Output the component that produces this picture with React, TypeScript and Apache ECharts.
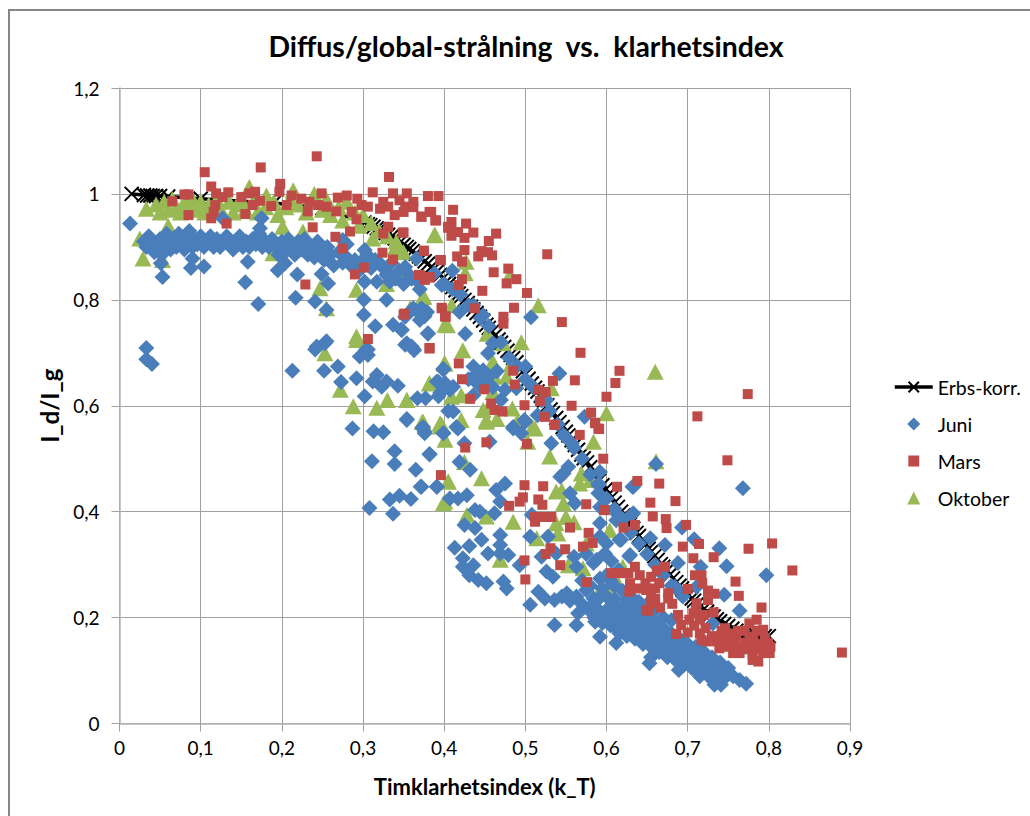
import React, { useEffect, useRef } from "react";
import * as echarts from "echarts";

const titleText = "Diffus/global-strålning  vs.  klarhetsindex";
const xAxisTitle = "Timklarhetsindex (k_T)";
const yAxisTitle = "I_d/I_g";
const legendOrder = ["Erbs-korr.", "Juni", "Mars", "Oktober"];
const xTickLabels = ["0", "0,1", "0,2", "0,3", "0,4", "0,5", "0,6", "0,7", "0,8", "0,9"];
const yTickLabels = ["0", "0,2", "0,4", "0,6", "0,8", "1", "1,2"];

const erbs = [[.015,1],[.03,.998],[.034,.997],[.038,.997],[.041,.996],[.045,.996],[.05,.996],[.06,.995],[.1,.991],[.19,.983],[.25,.973],
[.302,.946],[.306,.943],[.309,.941],[.313,.938],[.317,.935],[.32,.933],[.324,.929],[.328,.926],[.331,.923],[.335,.919],[.339,.916],[.342,.913],[.346,.909],[.35,.904],[.354,.9],[.357,.896],[.361,.892],[.365,.887],[.369,.882],[.372,.878],[.376,.873],[.38,.868],[.384,.862],[.387,.858],[.391,.853],[.395,.847],[.399,.841],[.403,.835],[.406,.83],[.41,.824],[.414,.818],[.418,.812],[.421,.807],[.425,.8],[.429,.794],[.433,.787],[.436,.782],[.44,.775],[.444,.768],[.448,.761],[.452,.753],[.455,.747],[.459,.74],[.463,.733],[.467,.725],[.47,.719],[.474,.711],[.478,.704],[.482,.696],[.485,.69],[.489,.682],[.493,.673],[.497,.665],[.5,.659],[.504,.651],[.508,.642],[.512,.634],[.515,.627],[.519,.619],[.523,.61],[.527,.601],[.531,.593],[.534,.586],[.538,.577],[.542,.569],[.546,.56],[.55,.551],[.553,.544],[.557,.535],[.561,.526],[.565,.517],[.569,.508],[.572,.501],[.576,.493],[.58,.484],[.584,.475],[.587,.468],[.591,.459],[.595,.45],[.599,.442],[.603,.433],[.606,.426],[.61,.417],[.614,.409],[.618,.4],[.621,.393],[.625,.385],[.629,.376],[.633,.368],[.637,.36],[.64,.354],[.644,.346],[.648,.338],[.652,.33],[.655,.324],[.659,.316],[.663,.309],[.667,.301],[.67,.296],[.674,.288],[.678,.281],[.682,.274],[.686,.267],[.69,.26],[.693,.255],[.697,.249],[.701,.242],[.705,.236],[.708,.232],[.712,.226],[.716,.221],[.72,.216],[.724,.211],[.728,.206],[.732,.202],[.736,.197],[.74,.193],[.745,.188],[.75,.184],[.755,.179],[.76,.175],[.765,.172],[.77,.17],[.775,.168],[.78,.167],[.785,.166],[.79,.165],[.795,.165],[.8,.165]];

const juniBand = [[.013,.944],[.03,.91],[.033,.9],[.036,.92],[.04,.905],[.043,.89],[.046,.9],[.05,.915],[.052,.885],[.055,.895],[.058,.925],[.06,.905],[.063,.895],[.066,.915],[.07,.9],[.073,.925],[.076,.905],[.08,.895],[.083,.915],[.086,.93],[.09,.9],[.093,.915],[.096,.905],[.1,.92],[.104,.9],[.108,.91],[.112,.92],[.116,.9],[.12,.915],[.124,.9],[.128,.91],[.132,.92],[.136,.905],[.14,.895],[.144,.91],[.148,.92],[.152,.9],[.156,.91],[.16,.9],[.164,.915],[.168,.905],[.172,.925],[.176,.9],[.18,.91],[.184,.9],[.188,.915],[.192,.9],[.196,.885],[.2,.91],[.204,.89],[.208,.915],[.212,.9],[.216,.885],[.22,.91],[.224,.895],[.228,.915],[.232,.885],[.236,.9],[.24,.88],[.244,.91],[.248,.89],[.252,.875],[.256,.9],[.26,.885],[.264,.865],[.27,.89],[.275,.87],[.28,.905],[.285,.865],[.29,.875],[.295,.855],[.28,.88],[.3,.875],[.31,.86],[.32,.87],[.33,.85],[.345,.855],[.36,.84],[.37,.82],[.305,.885],[.315,.875],[.325,.86],[.335,.87],[.34,.84],[.35,.83],[.355,.85]];
const juniScatterHigh = [[.053,.843],[.088,.86],[.104,.863],[.09,.878],[.051,.869],[.127,.954],[.175,.954],[.173,.935],[.155,.833],[.171,.792],[.158,.872],[.195,.856],[.219,.848],[.204,.869],[.217,.804],[.241,.797],[.255,.781],[.249,.849],[.257,.831],[.302,.894],[.275,.913],[.302,.834],[.317,.834],[.329,.847],[.333,.834],[.301,.8],[.329,.8],[.301,.772],[.315,.75],[.337,.753],[.347,.744],[.36,.781],[.372,.784],[.376,.769],[.37,.762],[.38,.737],[.352,.715],[.36,.712],[.306,.706],[.255,.722],[.243,.712],[.033,.709],[.033,.688],[.04,.679],[.241,.706],[.253,.718],[.304,.706],[.296,.693],[.306,.696],[.362,.707]];
const juniScatterMid = [[.213,.666],[.252,.666],[.269,.674],[.273,.645],[.292,.652],[.317,.658],[.312,.646],[.323,.636],[.329,.646],[.343,.638],[.302,.618],[.367,.614],[.399,.668],[.391,.646],[.395,.624],[.401,.643],[.407,.63],[.354,.575],[.287,.557],[.313,.552],[.325,.55],[.373,.558],[.376,.548],[.399,.548],[.311,.495],[.339,.514],[.339,.49],[.382,.509],[.365,.479],[.371,.447],[.391,.447],[.359,.424],[.345,.43],[.333,.423],[.308,.407],[.337,.396],[.405,.59],[.366,.878],[.352,.862],[.366,.837],[.397,.828],[.41,.855],[.388,.85],[.419,.777],[.436,.79],[.448,.771],[.507,.767],[.372,.771],[.362,.784],[.352,.768],[.379,.777],[.348,.743],[.38,.736],[.426,.736],[.354,.718],[.363,.705],[.454,.699],[.5,.674],[.542,.661],[.399,.67],[.436,.674],[.448,.667],[.45,.648],[.393,.645],[.401,.636],[.411,.636],[.393,.618],[.436,.62],[.489,.633],[.47,.611],[.377,.614],[.509,.636],[.526,.611],[.411,.589],[.499,.573],[.354,.573],[.374,.56],[.573,.579],[.485,.56],[.415,.56],[.515,.582],[.46,.718],[.44,.66],[.455,.655],[.46,.635],[.442,.64],[.43,.65],[.475,.63],[.465,.665]];
const juniScatterLow = [[.376,.551],[.399,.548],[.417,.557],[.425,.529],[.382,.508],[.419,.494],[.432,.479],[.372,.447],[.391,.447],[.407,.425],[.417,.425],[.428,.431],[.438,.403],[.444,.4],[.475,.453],[.464,.441],[.469,.419],[.462,.397],[.425,.375],[.438,.369],[.469,.356],[.446,.347],[.413,.332],[.431,.335],[.469,.337],[.423,.312],[.436,.299],[.454,.321],[.469,.321],[.479,.318],[.423,.296],[.431,.28],[.442,.271],[.452,.265],[.473,.268],[.477,.255],[.493,.299],[.506,.353],[.528,.353],[.52,.315],[.538,.321],[.526,.287],[.534,.277],[.516,.249],[.524,.236],[.506,.224],[.536,.233],[.551,.246],[.563,.24],[.584,.236],[.575,.252],[.536,.186],[.563,.186],[.565,.208],[.586,.192],[.592,.164],[.6,.214],[.608,.227],[.62,.196],[.637,.22],[.616,.17],[.645,.189],[.633,.17],[.645,.152],[.612,.152],[.592,.274],[.584,.303],[.598,.321],[.563,.296],[.588,.309],[.555,.435],[.561,.416],[.592,.378],[.592,.353],[.616,.347],[.629,.318],[.633,.447],[.59,.453],[.592,.475],[.59,.435],[.614,.394],[.633,.397],[.547,.472],[.543,.466],[.553,.485],[.532,.529],[.547,.545],[.557,.529],[.485,.557],[.495,.548],[.5,.57],[.456,.532],[.592,.409],[.508,.394],[.545,.24],[.555,.232],[.57,.225],[.578,.215],[.59,.235],[.595,.255],[.605,.27],[.57,.27],[.58,.26],[.6,.28],[.61,.26],[.615,.29],[.56,.315],[.575,.32],[.6,.34]];
const juniRight = [[.661,.49],[.768,.444],[.632,.447],[.693,.37],[.708,.348],[.739,.331],[.748,.297],[.797,.28],[.716,.296],[.688,.303],[.672,.337],[.654,.35],[.618,.347],[.628,.316],[.631,.394],[.612,.384],[.606,.307],[.745,.243],[.764,.213],[.684,.258],[.711,.258],[.694,.24],[.731,.189],[.653,.114],[.689,.101],[.715,.089],[.733,.073],[.741,.073],[.756,.089],[.772,.075],[.764,.082]];
const juniCurve = [[.4,.83],[.41,.82],[.42,.81],[.43,.79],[.445,.765],[.455,.75],[.47,.72],[.48,.69],[.49,.675],[.5,.65],[.51,.635],[.52,.61],[.53,.59],[.54,.565],[.55,.54],[.56,.52],[.57,.5],[.58,.47],[.59,.45],[.6,.425],[.61,.405],[.62,.385],[.63,.36],[.64,.34],[.65,.32],[.66,.3],[.67,.28],[.68,.26],[.69,.25]];
const juniLowBand = [[.58,.22],[.585,.2],[.59,.215],[.595,.19],[.6,.205],[.605,.185],[.61,.2],[.615,.175],[.62,.19],[.625,.165],[.63,.185],[.635,.16],[.64,.175],[.645,.15],[.65,.17],[.655,.145],[.655,.125],[.66,.16],[.665,.135],[.67,.15],[.675,.125],[.68,.145],[.685,.12],[.69,.135],[.695,.11],[.7,.13],[.705,.105],[.71,.125],[.715,.095],[.72,.115],[.725,.09],[.73,.105],[.735,.08],[.74,.1],[.745,.085],[.75,.095],[.62,.22],[.63,.215],[.64,.205],[.65,.2],[.66,.19],[.67,.18],[.68,.17],[.69,.16],[.7,.15],[.71,.145],[.72,.135],[.73,.125],[.74,.115],[.75,.105],[.6,.24],[.61,.235],[.62,.25],[.63,.24],[.64,.23],[.65,.225],[.66,.215],[.67,.2],[.68,.195],
[.612,.215],[.618,.205],[.622,.175],[.628,.2],[.632,.195],[.638,.19],[.642,.16],[.648,.18],[.652,.155],[.658,.175],[.662,.14],[.668,.165],[.672,.135],[.678,.155],[.682,.13],[.688,.15],[.692,.12],[.698,.14],[.702,.115],[.708,.135],[.712,.11],[.718,.125],[.722,.1],[.728,.115],[.732,.09],[.738,.105],[.742,.09],[.748,.1],[.655,.19],[.665,.175],[.675,.165],[.685,.155],[.695,.145],[.705,.135],[.715,.13],[.725,.12],[.735,.11],[.645,.215],[.635,.225],[.625,.235]];

const marsTop = [[.243,1.071],[.105,1.041],[.174,1.05],[.332,1.032],[.113,1.014],[.198,1.019],[.197,1.004],[.312,1.003],[.337,1.001],[.354,1.001],[.38,.996],[.393,.996],[.085,.999],[.08,.999],[.065,.986],[.085,.96],[.119,1.001],[.134,1.003],[.127,.994],[.118,.979],[.113,.954],[.116,.966],[.155,.962],[.132,.944],[.15,.994],[.16,1.001],[.167,1.004],[.164,.979],[.173,.987],[.187,.977],[.206,.979],[.212,.997],[.224,.991],[.234,.985],[.232,.967],[.245,.979],[.249,1.001],[.255,.976],[.267,.967],[.269,.993],[.28,.997],[.293,.991],[.286,.966],[.292,.952],[.298,.979],[.306,.976],[.325,.985],[.321,.972],[.331,.976],[.339,.96],[.345,.988],[.352,.976],[.362,.985],[.372,.957],[.384,.966],[.39,.95],[.405,.938],[.238,.937],[.284,.929],[.266,.919],[.275,.897],[.331,.938],[.325,.925],[.349,.927],[.375,.893],[.396,.875],[.324,.889],[.337,.876],[.301,.861],[.29,.848],[.369,.847],[.382,.843],[.376,.838],[.229,.829],[.351,.774],[.397,.784],[.401,.769],[.306,.726],[.382,.709]];
const marsMid = [[.411,.97],[.362,.975],[.35,.966],[.372,.957],[.382,.966],[.389,.95],[.409,.947],[.427,.944],[.405,.936],[.417,.928],[.409,.921],[.436,.927],[.425,.917],[.464,.925],[.455,.911],[.35,.927],[.375,.892],[.395,.875],[.425,.894],[.416,.882],[.422,.872],[.442,.882],[.446,.892],[.454,.89],[.459,.884],[.527,.886],[.461,.852],[.479,.859],[.37,.847],[.376,.838],[.382,.842],[.422,.839],[.418,.828],[.489,.839],[.477,.831],[.447,.817],[.502,.813],[.397,.785],[.402,.768],[.35,.772],[.438,.784],[.486,.785],[.473,.768],[.473,.755],[.545,.758],[.382,.708],[.568,.7],[.418,.68],[.422,.65],[.485,.666],[.487,.64],[.616,.666],[.611,.643],[.561,.648],[.534,.647],[.449,.631],[.432,.613],[.516,.63],[.525,.626],[.518,.609],[.6,.617],[.458,.604],[.462,.592],[.472,.589],[.499,.601],[.557,.6],[.581,.587],[.586,.568],[.59,.557],[.524,.579],[.536,.564],[.712,.58],[.774,.622]];
const marsLow = [[.536,.564],[.567,.545],[.586,.567],[.591,.556],[.596,.5],[.452,.531],[.426,.521],[.502,.528],[.396,.469],[.499,.45],[.522,.448],[.613,.447],[.638,.458],[.497,.427],[.493,.419],[.516,.423],[.521,.413],[.48,.411],[.575,.414],[.597,.403],[.512,.39],[.512,.381],[.524,.39],[.532,.39],[.555,.37],[.621,.37],[.635,.375],[.578,.36],[.583,.341],[.571,.334],[.531,.331],[.525,.32],[.549,.329],[.543,.299],[.499,.308],[.5,.272],[.576,.267],[.606,.284],[.611,.284],[.616,.284],[.622,.284],[.627,.284],[.635,.296],[.641,.28],[.629,.265],[.628,.249],[.649,.214],[.649,.252]];
const marsRight = [[.749,.497],[.665,.453],[.654,.417],[.685,.42],[.598,.403],[.657,.391],[.673,.386],[.674,.369],[.698,.375],[.714,.339],[.694,.334],[.804,.34],[.775,.33],[.829,.289],[.732,.314],[.707,.312],[.672,.296],[.662,.289],[.655,.277],[.66,.255],[.676,.246],[.676,.236],[.655,.227],[.681,.226],[.666,.219],[.652,.213],[.709,.28],[.717,.28],[.718,.265],[.7,.254],[.725,.251],[.733,.245],[.759,.268],[.763,.241],[.791,.219],[.711,.227],[.725,.233],[.732,.21],[.688,.205],[.707,.208],[.715,.196],[.702,.196],[.692,.186],[.686,.169],[.7,.172],[.715,.17],[.723,.155],[.717,.158],[.746,.18],[.739,.164],[.75,.17],[.739,.142],[.76,.164],[.756,.133],[.764,.133],[.776,.164],[.785,.196],[.776,.189],[.793,.177],[.781,.158],[.799,.152],[.801,.133],[.787,.117],[.78,.12],[.793,.133],[.772,.152],[.748,.145],[.89,.134],[.797,.142],
[.71,.215],[.72,.205],[.708,.185],[.722,.18],[.73,.165],[.742,.175],[.752,.155],[.758,.148],[.768,.145],[.775,.14],[.783,.14],[.79,.15],[.795,.16],[.785,.175],[.77,.175],[.78,.13],[.802,.145],[.745,.16],[.735,.155],[.762,.175],[.655,.245],[.66,.235],[.665,.265],[.648,.265],[.64,.255]];

const oktoberBand = [[.033,.972],[.045,.98],[.05,.965],[.055,.985],[.06,.97],[.065,.99],[.07,.975],[.075,.965],[.08,.985],[.085,.975],[.09,.99],[.095,.97],[.1,.985],[.105,.965],[.11,.98],[.12,.99],[.125,.97],[.135,.985],[.14,.965],[.145,.98],[.15,.99],[.155,.97],[.165,.985],[.17,.965],[.18,.975],[.19,.985],[.195,.96],[.205,.975],[.21,.99],[.22,.98],[.23,.965],[.235,.985],[.25,.97],[.255,.99],[.26,.96],[.27,.975],[.275,.95],[.28,.985],[.29,.965],[.295,.94],[.3,.96],[.31,.945],[.32,.93],[.33,.92],[.34,.9],[.35,.89]];
const oktoberHigh = [[.16,1.013],[.214,1.007],[.181,.997],[.24,1],[.201,.938],[.226,.929],[.025,.916],[.029,.878],[.053,.875],[.06,.94],[.247,.822],[.292,.819],[.35,.847],[.329,.83],[.255,.784],[.292,.731],[.312,.916],[.341,.91],[.389,.922],[.375,.806],[.358,.784],[.401,.753],[.189,.888],[.253,.699],[.292,.724],[.272,.63],[.288,.599],[.317,.596],[.33,.611],[.354,.611],[.382,.643],[.401,.68],[.373,.57],[.395,.561],[.401,.536],[.405,.457],[.399,.416]];
const oktoberMid = [[.388,.923],[.427,.872],[.426,.85],[.374,.806],[.481,.847],[.516,.79],[.409,.79],[.404,.752],[.453,.736],[.473,.718],[.495,.72],[.423,.705],[.4,.68],[.46,.683],[.483,.68],[.66,.664],[.462,.655],[.477,.655],[.382,.642],[.532,.633],[.46,.626],[.421,.62],[.409,.617],[.354,.611],[.448,.592],[.484,.595],[.6,.586],[.452,.573],[.421,.573],[.395,.567],[.374,.57],[.509,.56],[.455,.6],[.465,.575],[.49,.57]];
const oktoberLow = [[.405,.457],[.401,.419],[.452,.391],[.485,.381],[.446,.463],[.53,.504],[.538,.438],[.547,.416],[.538,.378],[.54,.359],[.514,.35],[.553,.299],[.571,.293],[.592,.252],[.606,.246],[.569,.472],[.567,.453],[.584,.532],[.512,.557],[.503,.532],[.397,.564],[.452,.57],[.425,.494],[.62,.296],[.612,.271],[.604,.365],[.575,.34],[.627,.208],[.469,.309],[.428,.394],[.661,.495],[.58,.46],[.545,.44],[.56,.38],[.55,.39]];

const juni = [...juniBand, ...juniScatterHigh, ...juniScatterMid, ...juniScatterLow, ...juniRight, ...juniCurve, ...juniLowBand];
const mars = [...marsTop, ...marsMid, ...marsLow, ...marsRight];
const oktober = [...oktoberBand, ...oktoberHigh, ...oktoberMid, ...oktoberLow];

const FONT = "Lato";
const X_PATH = "path://M0,0L10,10M10,0L0,10";
const DIAMOND_ICON = "path://M6,0L12,6L6,12L0,6Z";
const SQUARE_ICON = "path://M0,0L0,0ZM12,12L12,12ZM1,1L11,1L11,11L1,11Z";
const TRIANGLE_ICON = "path://M6,0L12,12L0,12Z";

export default function App() {
  const ref = useRef<HTMLDivElement>(null);
  useEffect(() => {
    const chart = echarts.init(ref.current!, null, { renderer: "svg" });
    const axisCommon = {
      axisLine: { onZero: false, lineStyle: { color: "#b4b4b4", width: 1.5 } },
      axisTick: { show: true, length: 8, lineStyle: { color: "#a0a0a0", width: 1 } },
      splitLine: { show: true, lineStyle: { color: "#a0a0a0", width: 1 } },
      nameLocation: "middle" as const,
    };
    chart.setOption({
      animation: false,
      backgroundColor: "#fff",
      title: {
        text: titleText,
        left: 521,
        top: 27,
        textAlign: "center",
        textStyle: { fontFamily: FONT, fontWeight: "bold", fontSize: 28.4, color: "#000" },
      },
      grid: { left: 119.5, top: 88, width: 730.5, height: 635.5 },
      xAxis: {
        ...axisCommon,
        type: "value",
        min: 0,
        max: 0.9,
        interval: 0.1,
        name: xAxisTitle,
        nameGap: 52,
        nameTextStyle: { fontFamily: FONT, fontWeight: "bold", fontSize: 22, color: "#000" },
        axisLabel: {
          fontFamily: FONT, fontSize: 19, color: "#000", margin: 14,
          formatter: (v: number) => xTickLabels[Math.round(v * 10)],
        },
      },
      yAxis: {
        ...axisCommon,
        type: "value",
        min: 0,
        max: 1.2,
        interval: 0.2,
        name: yAxisTitle,
        nameGap: 58,
        nameTextStyle: { fontFamily: FONT, fontWeight: "bold", fontSize: 24, color: "#000" },
        axisLabel: {
          fontFamily: FONT, fontSize: 19, color: "#000", margin: 20,
          formatter: (v: number) => yTickLabels[Math.round(v * 5)],
        },
      },
      legend: {
        left: 893,
        top: 377,
        padding: 0,
        orient: "vertical",
        itemWidth: 38,
        itemHeight: 13,
        itemGap: 17,
        textStyle: { fontFamily: FONT, fontSize: 19.5, color: "#000" },
        data: [
          { name: legendOrder[0], lineStyle: { type: "solid", width: 3.5, color: "#000" } },
          { name: legendOrder[1], icon: DIAMOND_ICON },
          { name: legendOrder[2], icon: SQUARE_ICON },
          { name: legendOrder[3], icon: TRIANGLE_ICON },
        ],
      },
      graphic: [
        {
          type: "rect",
          silent: true,
          shape: { x: 9, y: 10, width: 1100, height: 1000 },
          style: { fill: "none", stroke: "#868686", lineWidth: 2 },
        },
      ],
      series: [
        {
          name: legendOrder[0],
          type: "line",
          data: erbs,
          symbol: X_PATH,
          symbolSize: 14,
          showAllSymbol: true,
          itemStyle: { color: "none", borderColor: "#000", borderWidth: 2 },
          lineStyle: { color: "#000", width: 3.5 },
          z: 2,
        },
        {
          name: legendOrder[3],
          type: "scatter",
          data: oktober,
          symbol: "triangle",
          symbolSize: [17, 16],
          itemStyle: { color: "#98b954", opacity: 1 },
          z: 3,
        },
        {
          name: legendOrder[1],
          type: "scatter",
          data: juni,
          symbol: "diamond",
          symbolSize: [16, 16],
          itemStyle: { color: "#4a7ebb", opacity: 1 },
          z: 4,
        },
        {
          name: legendOrder[2],
          type: "scatter",
          data: mars,
          symbol: "rect",
          symbolSize: 10,
          itemStyle: { color: "#be4b48", opacity: 1 },
          z: 5,
        },
      ],
    });
    return () => chart.dispose();
  }, []);
  return (
    <div
      ref={ref}
      style={{ position: "fixed", left: 0, top: 0, width: 1030, height: 816, background: "#fff" }}
    />
  );
}
